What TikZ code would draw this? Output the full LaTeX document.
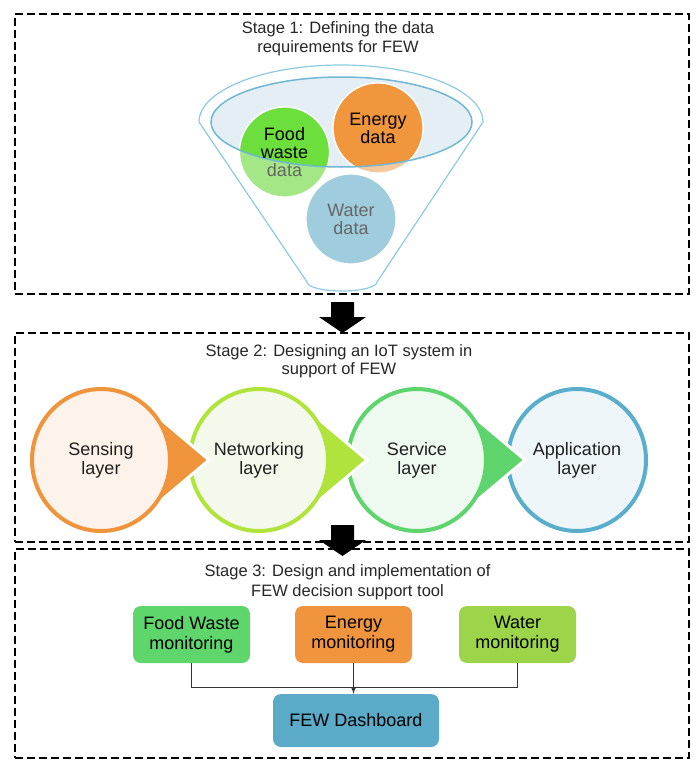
\documentclass[tikz,border=0pt]{standalone}
\usepackage{fontspec}
\setmainfont{Liberation Sans}
\usetikzlibrary{shapes.geometric,arrows}
\definecolor{funnelblue}{HTML}{8CCBE0}
\definecolor{surface}{HTML}{E3EFF4}
\definecolor{surfaceline}{HTML}{70B8D4}
\definecolor{foodgreen}{HTML}{6CDF3C}
\definecolor{foodpale}{HTML}{A4E786}
\definecolor{energyorange}{HTML}{F0963C}
\definecolor{energypale}{HTML}{F6C79C}
\definecolor{waterblue}{HTML}{A0CDDD}
\definecolor{datagray}{HTML}{666666}
\definecolor{sensering}{HTML}{F0943C}
\definecolor{sensefill}{HTML}{FDF3EA}
\definecolor{netring}{HTML}{B0E43C}
\definecolor{netfill}{HTML}{F4FAEB}
\definecolor{servring}{HTML}{5DD46C}
\definecolor{servfill}{HTML}{EEF9EF}
\definecolor{appring}{HTML}{58AECB}
\definecolor{appfill}{HTML}{EEF6FA}
\definecolor{monfood}{HTML}{5ED66C}
\definecolor{monenergy}{HTML}{F0943E}
\definecolor{monwater}{HTML}{9CD44A}
\definecolor{dashblue}{HTML}{5BAAC7}
\newcommand\iotlayer[5]{%
	\fill[white] (#1,460) ellipse [x radius=73pt, y radius=75pt];
	\filldraw[white, line width=3pt, fill=#3] (#1+44,406) -- (#1+108,460) -- (#1+44,514) -- cycle;
	\node[layer, draw=#3, fill=#4] (#2) at (#1,460) {#5};}

\begin{document}
\begin{tikzpicture}[x=1pt, y=-1pt,
		stagebox/.style={draw, dash pattern=on 8pt off 4pt, line width=2.2pt, minimum width=674pt, inner sep=0pt},
		stagetitle/.style={align=center, text=black!85, font=\fontsize{16.5}{18.5}\selectfont},
		datacirc/.style={circle, draw=white, line width=1.2pt, minimum size=90pt, inner sep=0pt},
		datatext/.style={align=center, font=\fontsize{18}{18}\selectfont},
		layer/.style={ellipse, line width=4pt, minimum width=138pt, minimum height=142pt, inner sep=0pt, align=center, text=black!88, font=\fontsize{18}{19}\selectfont},
		monbox/.style={rounded corners=8pt, minimum width=117pt, minimum height=57pt, inner sep=0pt, align=center, font=\fontsize{18}{20}\selectfont}]
	\useasboundingbox (0,0) rectangle (699,771);
	\node[stagebox, minimum height=280pt] (s1) at (352,154) {};
	\node[stagebox, minimum height=209pt] (s2) at (352,437.5) {};
	\node[stagebox, minimum height=209pt] (s3) at (352,653.5) {};
	\node[stagetitle] (t1) at (338,38.5) {Stage 1: Defining the data\\requirements for FEW};
	\node[stagetitle] (t2) at (339,361) {Stage 2: Designing an IoT system in\\support of FEW};
	\node[stagetitle, font=\fontsize{16.5}{20}\selectfont] (t3) at (347.5,582) {Stage 3: Design and implementation of\\FEW decision support tool};
	\filldraw[fill=white, draw=funnelblue, line width=1.2pt] (199,122) arc[start angle=180, end angle=0, x radius=142pt, y radius=57pt] -- (377,282) arc[start angle=0, end angle=-180, x radius=35pt, y radius=9pt] -- cycle;
	\fill[surface] (341.5,122) ellipse [x radius=130.5pt, y radius=45pt];
	\node[datacirc, fill=foodpale] (food) at (284.5,152) {};
	\node[datacirc, fill=energypale] (energy) at (378,128) {};
	\node[datacirc, fill=waterblue] (water) at (351,219) {};
	\begin{scope}
		\clip (341.5,122) ellipse [x radius=130.5pt, y radius=45pt];
		\node[datacirc, fill=foodgreen] (foodv) at (food) {};
		\node[datacirc, fill=energyorange] (energyv) at (energy) {};
	\end{scope}
	\draw[surfaceline, line width=1.5pt] (341.5,122) ellipse [x radius=130.5pt, y radius=45pt];
	\node[datatext] (foodlbl) at (food) {Food\\waste\\\textcolor{datagray}{data}};
	\node[datatext] (energylbl) at (energy) {Energy\\data};
	\node[datatext, text=datagray] (waterlbl) at (water) {Water\\data};
	\node[layer, draw=appring, fill=appfill] (app) at (577,460) {Application\\layer};
	\iotlayer{417}{serv}{servring}{servfill}{Service\\layer}
	\iotlayer{259}{net}{netring}{netfill}{Networking\\layer}
	\iotlayer{101}{sense}{sensering}{sensefill}{Sensing\\layer}
	\node[monbox, fill=monfood] (foodmon) at (191.5,634.5) {Food Waste\\monitoring};
	\node[monbox, fill=monenergy] (energymon) at (353.5,634.5) {Energy\\monitoring};
	\node[monbox, fill=monwater] (watermon) at (517.5,634.5) {Water\\monitoring};
	\node[monbox, fill=dashblue, minimum width=166pt, minimum height=53pt] (dashboard) at (356,720.5) {FEW Dashboard};
	\draw[line width=1.2pt, black!80] (foodmon.south) -- ++(0,24) -| (watermon.south);
	\draw[-latex, line width=1.2pt, black!80] (energymon.south) -- (energymon.south |- dashboard.north);
	\fill (331,302) -- (354,302) -- (354,317) -- (366,317) -- (342.5,333) -- (319,317) -- (331,317) -- cycle;
	\fill (331,525) -- (354,525) -- (354,540) -- (366,540) -- (342.5,556) -- (319,540) -- (331,540) -- cycle;
\end{tikzpicture}
\end{document}
